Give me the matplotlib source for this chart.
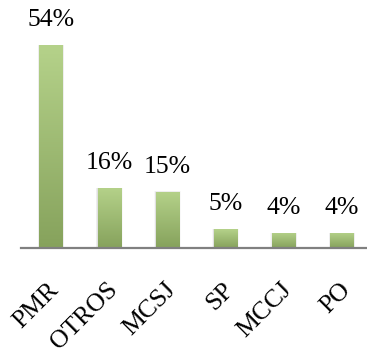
import matplotlib
matplotlib.use("Agg")
import matplotlib.pyplot as plt
import matplotlib.transforms as mtransforms
import numpy as np
from matplotlib.colors import LinearSegmentedColormap

categories = ["PMR", "OTROS", "MCSJ", "SP", "MCCJ", "PO"]
values = [54, 16, 15, 5, 4, 4]
labels = ["54%", "16%", "15%", "5%", "4%", "4%"]

W, H = 367, 354
fig = plt.figure(figsize=(W / 100, H / 100), dpi=100)
ax = fig.add_axes([21 / W, 106 / H, 1 - 21 / W, 248 / H])

bar_w = 0.4
x = np.arange(len(categories))
grad = LinearSegmentedColormap.from_list("g", ["#86a25c", "#b5d28a"])

bars = ax.bar(x, values, width=bar_w, color="none", edgecolor="none", zorder=2)
for b in bars:
    x0, y0 = b.get_x(), b.get_y()
    w, h = b.get_width(), b.get_height()
    # soft glow behind each bar
    for k, a in enumerate([0.05, 0.08, 0.12]):
        pad = 0.03 - k * 0.01
        ax.add_patch(plt.Rectangle((x0 - pad, y0), w + 2 * pad, h + pad * 3,
                                   color="#7f7f7f", alpha=a, lw=0, zorder=1))
    im = ax.imshow(np.linspace(0, 1, 256).reshape(-1, 1), cmap=grad,
                   origin="lower", extent=[x0, x0 + w, y0, y0 + h],
                   aspect="auto", zorder=2)
    im.set_clip_path(b)

for xi, v, lab in zip(x, values, labels):
    ax.annotate(lab, (xi, v), xytext=(0, 10), textcoords="offset points",
                ha="center", va="bottom", fontsize=18.5,
                family="Liberation Serif", color="black")

ax.set_xlim(-0.515, 5.43)
ax.set_ylim(0, 248 / 3.759)

for s in ["top", "right", "left"]:
    ax.spines[s].set_visible(False)
ax.spines["bottom"].set_color("#808080")
ax.spines["bottom"].set_linewidth(1.6)
ax.set_yticks([])
ax.set_xticks(x)
ax.set_xticklabels(categories, rotation=45, ha="right", rotation_mode="anchor",
                   fontsize=18.5, family="Liberation Serif")
ax.tick_params(axis="x", length=0, pad=22)
shift = mtransforms.ScaledTranslation(-3 / 100, 0, fig.dpi_scale_trans)
for t in ax.get_xticklabels():
    t.set_transform(t.get_transform() + shift)
ax.patch.set_alpha(0)

fig.savefig("out.png", dpi=100)
